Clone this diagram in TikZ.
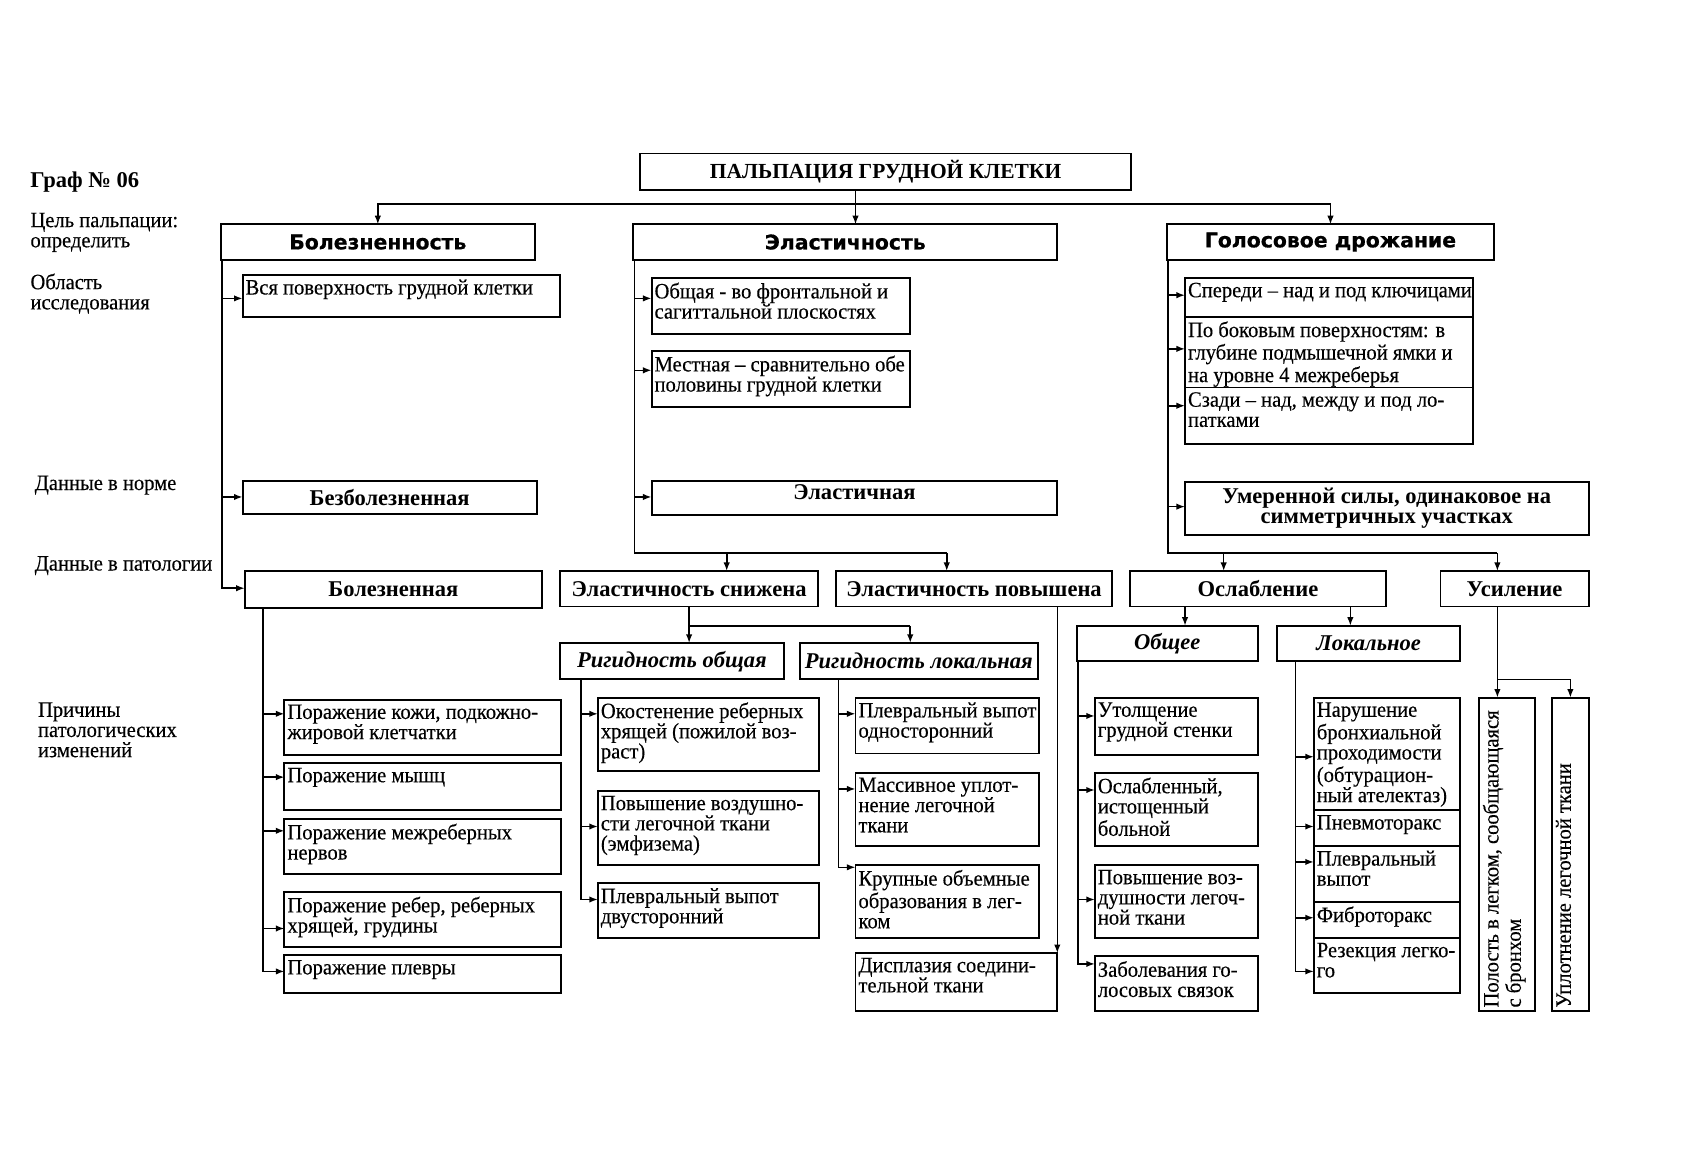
\documentclass[tikz,border=0pt]{standalone}
\usepackage{fontspec}
\setmainfont{Liberation Serif}
\newfontfamily\condfont{Liberation Serif}[FakeStretch=0.94,FakeBold=0.3]
\newfontfamily\hdrfont{DejaVu Sans}[FakeBold=0.6]
\usetikzlibrary{arrows.meta}
\newcommand\myTx{\condfont\fontsize{10.2}{9.4}\selectfont}
\newcommand\myBs{\bfseries\fontsize{10.5}{9.6}\selectfont}
\newcommand\myBi{\bfseries\itshape\fontsize{10.5}{10}\selectfont}
\newcommand\myHd{\hdrfont\bfseries\fontsize{9.5}{10}\selectfont}
\newcommand\myTt{\bfseries\fontsize{10}{10}\selectfont}
\newcommand\MkBox[6]{%
  \node[bx, minimum width={(#4-#2)*0.5pt}, minimum height={(#5-#3)*0.5pt}] (#1) at ({(#2+#4)/2},{(#3+#5)/2}) {};
  \node[tx, anchor=north west] (#1t) at ([xshift=1.2pt,yshift=-2pt]#1.north west) {#6};}
\newcommand\MkCbox[7]{%
  \node[bx, #6, minimum width={(#4-#2)*0.5pt}, minimum height={(#5-#3)*0.5pt}] (#1) at ({(#2+#4)/2},{(#3+#5)/2}) {#7};}
\begin{document}
\begin{tikzpicture}[x=0.5pt,y=-0.5pt,
  bx/.style={draw, line width=0.9pt, inner sep=0pt, outer sep=0pt, align=center},
  tx/.style={inner sep=0pt, align=left, font=\myTx},
  lbl/.style={inner sep=0pt, align=left, font=\myTx, anchor=west},
  arr/.style={line width=0.75pt, -{Latex[length=4pt,width=3pt]}},
  ln/.style={line width=0.75pt}]
\useasboundingbox (0,0) rectangle (1567,1085);

% left labels
\node[lbl, font=\myBs] (g0) at (28,170) {Граф № 06};
\node[lbl] (g1) at (28,216.5) {Цель пальпации:\\определить};
\node[lbl] (g2) at (28,273.5) {Область\\исследования};
\node[lbl] (g3) at (32,452) {Данные в норме};
\node[lbl] (g4) at (32,527) {Данные в патологии};
\node[lbl] (g5) at (35,680) {Причины\\патологических\\изменений};

% title and headers
\MkCbox{title}{596}{143}{1054}{177}{font=\myTt}{ПАЛЬПАЦИЯ ГРУДНОЙ КЛЕТКИ}
\MkCbox{bol}{206}{209}{498}{242}{font=\myHd}{Болезненность}
\MkCbox{ela}{590}{209}{985}{242}{font=\myHd}{Эластичность}
\MkCbox{gol}{1087}{209}{1392}{242}{font=\myHd}{Голосовое дрожание}

% column 1
\MkBox{vsya}{226}{256}{522}{295}{Вся поверхность грудной клетки}
\MkCbox{bezb}{226}{448}{500}{479}{font=\myBs}{Безболезненная}
\MkCbox{bolz}{228}{532}{505}{566}{font=\myBs}{Болезненная}
\MkBox{pa}{265}{652}{523}{703}{Поражение кожи, подкожно-\\жировой клетчатки}
\MkBox{pb}{265}{711}{523}{755}{Поражение мышц}
\MkBox{pc}{265}{763}{523}{814}{Поражение межреберных\\нервов}
\MkBox{pd}{265}{831}{523}{882}{Поражение ребер, реберных\\хрящей, грудины}
\MkBox{pe}{265}{890}{523}{925}{Поражение плевры}

% column 2
\MkBox{eo}{607}{259}{848}{311}{Общая - во фронтальной и\\сагиттальной плоскостях}
\MkBox{em}{607}{327}{848}{379}{Местная – сравнительно обе\\половины грудной клетки}
\MkCbox{eln}{607}{448}{985}{480}{font=\myBs, text depth=6pt}{Эластичная}
\MkCbox{esn}{522}{532}{762}{565}{font=\myBs}{Эластичность снижена}
\MkCbox{epv}{779}{532}{1036}{565}{font=\myBs}{Эластичность повышена}
\MkCbox{rg1}{522}{599}{730}{633}{font=\myBi}{Ригидность общая}
\MkCbox{rg2}{745}{599}{967}{633}{font=\myBi}{Ригидность локальная}
\MkBox{ra}{557}{650}{763}{718}{Окостенение реберных\\хрящей (пожилой воз-\\раст)}
\MkBox{rb}{557}{737}{763}{806}{Повышение воздушно-\\сти легочной ткани\\(эмфизема)}
\MkBox{rc}{557}{823}{763}{874}{Плевральный выпот\\двусторонний}
\MkBox{la}{797}{650}{968}{702}{Плевральный выпот\\односторонний}
\MkBox{lb}{797}{720}{968}{788}{Массивное уплот-\\нение легочной\\ткани}
\MkBox{lc}{797}{806}{968}{874}{Крупные объемные\\образования в лег-\\ком}
\MkBox{ld}{797}{888}{985}{942}{Дисплазия соедини-\\тельной ткани}

% column 3
\MkBox{ga}{1104}{259}{1372}{295}{Спереди – над и под ключицами}
\MkBox{gb}{1104}{295}{1372}{361}{По боковым поверхностям: в\\глубине подмышечной ямки и\\на уровне 4 межреберья}
\MkBox{gc}{1104}{361}{1372}{414}{Сзади – над, между и под ло-\\патками}
\MkCbox{gum}{1104}{449}{1480}{498}{font=\myBs}{Умеренной силы, одинаковое на\\симметричных участках}
\MkCbox{osl}{1053}{532}{1291}{565}{font=\myBs}{Ослабление}
\MkCbox{usl}{1342}{532}{1480}{565}{font=\myBs}{Усиление}
\MkCbox{obs}{1003}{583}{1172}{616}{font=\myBi}{Общее}
\MkCbox{lok}{1190}{583}{1360}{616}{font=\myBi}{Локальное}
\MkBox{oa}{1020}{650}{1172}{703}{Утолщение\\грудной стенки}
\MkBox{ob}{1020}{720}{1172}{788}{Ослабленный,\\истощенный\\больной}
\MkBox{oc}{1020}{806}{1172}{874}{Повышение воз-\\душности легоч-\\ной ткани}
\MkBox{od}{1020}{891}{1172}{942}{Заболевания го-\\лосовых связок}
\MkBox{ka}{1224}{650}{1360}{755}{Нарушение\\бронхиальной\\проходимости\\(обтурацион-\\ный ателектаз)}
\MkBox{kb}{1224}{755}{1360}{788}{Пневмоторакс}
\MkBox{kc}{1224}{788}{1360}{840}{Плевральный\\выпот}
\MkBox{kd}{1224}{840}{1360}{874}{Фиброторакс}
\MkBox{ke}{1224}{874}{1360}{925}{Резекция легко-\\го}
\MkCbox{v1}{1378}{650}{1430}{942}{}{}
\MkCbox{v2}{1446}{650}{1480}{942}{}{}
\node[tx, rotate=90, anchor=north west] (v1t) at ([xshift=1.5pt,yshift=1.5pt]v1.south west) {Полость в легком, сообщающаяся\\с бронхом};
\node[tx, rotate=90, anchor=north west] (v2t) at ([xshift=1.5pt,yshift=1.5pt]v2.south west) {Уплотнение легочной ткани};

% connectors: top
\coordinate (j1) at (797,190);
\draw[arr] (title.south -| j1) -- (ela.north -| j1);
\draw[arr] (j1) -| (bol.north);
\draw[arr] (j1) -| (gol.north);

% column 1
\coordinate (t1) at (207,242);
\draw[arr] (t1) |- (vsya.west |- 0,278);
\draw[arr] (t1) |- (bezb.west |- 0,463);
\draw[arr] (t1) |- (bolz.west |- 0,548);
\coordinate (t2) at (245,566);
\foreach \n/\y in {pa/665, pb/724, pc/774, pd/865, pe/905}
  \draw[arr] (t2) |- (\n.west |- 0,\y);

% column 2
\coordinate (t3) at (591,242);
\draw[arr] (t3) |- (eo.west |- 0,278);
\draw[arr] (t3) |- (em.west |- 0,345);
\draw[arr] (t3) |- (eln.west |- 0,463);
\coordinate (j2) at (882,515);
\coordinate (j3) at (677,515);
\draw[ln] (t3) |- (j2);
\draw[arr] (j3) -- (esn.north -| j3);
\draw[arr] (j2) -- (epv.north -| j2);
\coordinate (j4) at (642,583);
\coordinate (j5) at (848,583);
\draw[ln] (esn.south -| j4) -- (j4) -- (j5);
\draw[arr] (j4) -- (rg1.north -| j4);
\draw[arr] (j5) -- (rg2.north -| j5);
\coordinate (t4) at (541,633);
\foreach \n/\y in {ra/665, rb/770, rc/838}
  \draw[arr] (t4) |- (\n.west |- 0,\y);
\coordinate (t5) at (781,633);
\foreach \n/\y in {la/665, lb/735, lc/808}
  \draw[arr] (t5) |- (\n.west |- 0,\y);
\coordinate (t6) at (985,565);
\draw[arr] (t6) -- (ld.north east);

% column 3
\coordinate (t7) at (1088,242);
\foreach \n/\y in {ga/275, gb/325, gc/378, gum/472}
  \draw[arr] (t7) |- (\n.west |- 0,\y);
\coordinate (j6) at (1395,515);
\coordinate (j7) at (1140,515);
\draw[ln] (t7) |- (j6);
\draw[arr] (j7) -- (osl.north -| j7);
\draw[arr] (j6) -- (usl.north -| j6);
\coordinate (j8) at (1104,583);
\coordinate (j9) at (1258,583);
\draw[arr] (osl.south -| j8) -- (obs.north -| j8);
\draw[arr] (osl.south -| j9) -- (lok.north -| j9);
\coordinate (t8) at (1004,616);
\foreach \n/\y in {oa/667, ob/736, oc/838, od/898}
  \draw[arr] (t8) |- (\n.west |- 0,\y);
\coordinate (t9) at (1207,616);
\foreach \n/\y in {ka/705, kb/770, kc/803, kd/855, ke/905}
  \draw[arr] (t9) |- (\n.west |- 0,\y);
\coordinate (j10) at (1395,633);
\coordinate (j11) at (1463,633);
\draw[ln] (usl.south -| j10) -- (j10) -- (j11);
\draw[arr] (j10) -- (v1.north -| j10);
\draw[arr] (j11) -- (v2.north -| j11);
\end{tikzpicture}
\end{document}
